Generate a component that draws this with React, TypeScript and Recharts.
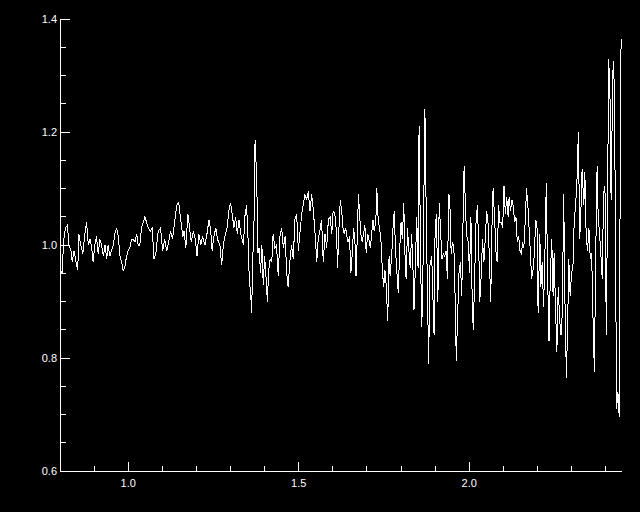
import { LineChart, Line, XAxis, YAxis } from 'recharts'

// wavelength grid (micron) and normalised flux
const wavelength = [
  0.802, 0.806, 0.811, 0.816, 0.822, 0.826, 0.832, 0.836, 0.841, 0.847,
  0.852, 0.855, 0.861, 0.867, 0.873, 0.878, 0.883, 0.888, 0.893, 0.897,
  0.902, 0.907, 0.912, 0.917, 0.922, 0.927, 0.932, 0.937, 0.941, 0.946,
  0.951, 0.956, 0.961, 0.966, 0.971, 0.976, 0.981, 0.985, 0.990, 0.995,
  1.000, 1.005, 1.010, 1.015, 1.020, 1.025, 1.029, 1.034, 1.039, 1.044,
  1.049, 1.054, 1.059, 1.065, 1.071, 1.075, 1.081, 1.088, 1.095, 1.101,
  1.107, 1.113, 1.117, 1.124, 1.130, 1.137, 1.142, 1.148, 1.154, 1.160,
  1.164, 1.169, 1.175, 1.180, 1.185, 1.191, 1.197, 1.202, 1.207, 1.213,
  1.218, 1.225, 1.231, 1.237, 1.242, 1.246, 1.251, 1.257, 1.262, 1.269,
  1.274, 1.279, 1.285, 1.290, 1.295, 1.300, 1.305, 1.310, 1.315, 1.320,
  1.325, 1.330, 1.334, 1.338, 1.342, 1.347, 1.351, 1.355, 1.359, 1.362,
  1.365, 1.369, 1.372, 1.377, 1.380, 1.384, 1.388, 1.392, 1.396, 1.400,
  1.404, 1.408, 1.412, 1.416, 1.421, 1.425, 1.430, 1.435, 1.440, 1.445,
  1.450, 1.455, 1.460, 1.465, 1.469, 1.474, 1.479, 1.484, 1.489, 1.494,
  1.499, 1.504, 1.509, 1.513, 1.518, 1.523, 1.528, 1.533, 1.538, 1.543,
  1.548, 1.553, 1.557, 1.562, 1.567, 1.572, 1.577, 1.582, 1.587, 1.592,
  1.597, 1.601, 1.606, 1.611, 1.614, 1.618, 1.622, 1.626, 1.630, 1.633,
  1.638, 1.641, 1.645, 1.649, 1.653, 1.657, 1.661, 1.665, 1.668, 1.672,
  1.675, 1.679, 1.682, 1.686, 1.690, 1.694, 1.698, 1.702, 1.706, 1.710,
  1.714, 1.718, 1.721, 1.726, 1.729, 1.733, 1.737, 1.741, 1.745, 1.749,
  1.753, 1.757, 1.761, 1.765, 1.768, 1.773, 1.776, 1.780, 1.784, 1.788,
  1.792, 1.796, 1.800, 1.804, 1.808, 1.812, 1.815, 1.819, 1.823, 1.827,
  1.831, 1.835, 1.838, 1.842, 1.846, 1.850, 1.853, 1.858, 1.861, 1.865,
  1.870, 1.874, 1.878, 1.881, 1.885, 1.890, 1.893, 1.897, 1.900, 1.904,
  1.908, 1.912, 1.916, 1.920, 1.924, 1.928, 1.932, 1.936, 1.940, 1.943,
  1.947, 1.951, 1.955, 1.959, 1.962, 1.966, 1.970, 1.974, 1.978, 1.982,
  1.985, 1.990, 1.993, 1.997, 2.001, 2.005, 2.009, 2.012, 2.016, 2.020,
  2.024, 2.028, 2.031, 2.035, 2.039, 2.043, 2.047, 2.051, 2.055, 2.059,
  2.063, 2.067, 2.070, 2.075, 2.078, 2.082, 2.086, 2.090, 2.094, 2.098,
  2.102, 2.106, 2.110, 2.114, 2.117, 2.121, 2.125, 2.129, 2.133, 2.137,
  2.141, 2.145, 2.149, 2.153, 2.157, 2.160, 2.164, 2.168, 2.172, 2.176,
  2.179, 2.183, 2.187, 2.191, 2.195, 2.199, 2.202, 2.207, 2.210, 2.214,
  2.218, 2.222, 2.226, 2.230, 2.234, 2.238, 2.242, 2.246, 2.249, 2.253,
  2.257, 2.261, 2.265, 2.269, 2.273, 2.277, 2.281, 2.285, 2.289, 2.292,
  2.296, 2.300, 2.304, 2.308, 2.312, 2.316, 2.320, 2.324, 2.328, 2.331,
  2.336, 2.339, 2.343, 2.347, 2.351, 2.355, 2.359, 2.363, 2.367, 2.371,
  2.375, 2.378, 2.382, 2.386, 2.390, 2.394, 2.398, 2.402, 2.406, 2.409,
  2.413, 2.416, 2.421, 2.424, 2.428, 2.432, 2.436, 2.440, 2.444, 2.448,
]

const flux = [
  0.955, 0.950, 1.010, 1.030, 1.035, 1.000, 0.990, 0.970, 0.990, 0.970,
  0.955, 1.020, 1.000, 0.985, 1.020, 1.040, 1.000, 1.010, 0.995, 0.970,
  1.000, 1.015, 0.985, 1.010, 1.000, 0.980, 1.000, 0.975, 1.000, 0.980,
  0.990, 1.000, 1.020, 1.030, 1.015, 0.980, 0.970, 0.955, 0.960, 0.980,
  0.990, 0.995, 1.010, 1.010, 1.005, 1.020, 1.000, 1.000, 1.030, 1.040,
  1.050, 1.040, 1.030, 1.025, 1.030, 0.975, 0.985, 1.025, 1.030, 0.990,
  1.010, 0.990, 1.000, 1.025, 1.010, 1.045, 1.070, 1.075, 1.045, 1.015,
  1.025, 0.995, 1.055, 1.030, 1.005, 1.025, 1.010, 0.980, 1.020, 1.000,
  1.015, 1.000, 1.020, 1.045, 1.025, 0.990, 1.015, 1.030, 1.010, 1.000,
  0.965, 1.000, 1.020, 1.030, 1.060, 1.075, 1.055, 1.030, 1.050, 1.020,
  1.045, 1.020, 1.010, 1.000, 1.050, 1.070, 1.020, 0.940, 0.915, 0.880,
  0.970, 1.045, 1.185, 1.115, 0.985, 0.995, 0.950, 1.000, 0.930, 0.980,
  0.945, 0.900, 0.955, 0.975, 0.970, 1.020, 0.995, 1.000, 0.945, 1.015,
  1.030, 0.995, 1.015, 0.950, 0.925, 0.970, 1.000, 0.975, 1.045, 1.055,
  0.990, 1.025, 1.055, 1.070, 1.090, 1.080, 1.095, 1.060, 1.090, 1.060,
  1.020, 0.970, 1.010, 1.025, 1.045, 0.970, 1.020, 0.995, 1.045, 1.050,
  1.020, 1.060, 1.055, 1.020, 0.960, 1.030, 1.080, 1.060, 1.030, 1.020,
  1.030, 1.015, 1.005, 1.015, 0.950, 0.985, 1.030, 1.005, 0.945, 1.020,
  1.090, 1.050, 1.020, 1.005, 1.020, 1.035, 0.985, 1.020, 1.010, 0.995,
  1.020, 1.045, 1.025, 1.040, 1.100, 1.045, 1.030, 1.010, 0.960, 0.925,
  0.955, 0.925, 0.865, 0.980, 0.945, 0.985, 1.025, 1.060, 0.990, 0.950,
  0.915, 0.990, 1.040, 1.010, 1.075, 0.975, 0.940, 1.030, 0.990, 0.960,
  1.020, 0.960, 0.885, 0.960, 1.050, 0.960, 1.210, 0.950, 0.855, 0.980,
  1.240, 1.050, 0.900, 0.790, 0.965, 0.980, 0.920, 0.840, 1.030, 1.055,
  0.900, 1.075, 1.025, 0.975, 0.985, 0.980, 0.990, 0.940, 1.090, 1.080,
  0.985, 1.005, 0.995, 0.900, 0.795, 0.875, 0.950, 0.970, 0.910, 1.045,
  1.140, 1.050, 1.015, 1.005, 0.950, 1.050, 0.890, 0.850, 0.945, 1.040,
  1.070, 0.995, 0.900, 0.945, 1.010, 0.970, 1.010, 1.060, 1.040, 0.980,
  0.900, 1.040, 1.100, 1.040, 0.990, 0.970, 1.070, 1.040, 1.040, 1.030,
  1.105, 1.055, 1.085, 1.050, 1.085, 1.060, 1.080, 1.070, 1.040, 1.050,
  1.005, 1.015, 0.990, 0.985, 1.005, 0.995, 1.040, 1.100, 1.070, 1.025,
  0.990, 0.940, 0.955, 0.985, 1.045, 1.030, 0.880, 1.020, 0.925, 0.970,
  0.890, 0.985, 1.110, 0.940, 0.830, 0.950, 1.010, 0.910, 0.985, 0.890,
  0.810, 0.925, 0.870, 0.840, 0.880, 1.090, 0.890, 0.765, 0.870, 0.975,
  0.910, 0.950, 0.960, 1.045, 1.070, 1.115, 1.200, 1.010, 1.070, 1.135,
  1.070, 1.130, 1.015, 0.990, 1.030, 0.975, 0.985, 0.870, 0.775, 0.985,
  1.140, 1.055, 1.020, 0.985, 0.940, 1.090, 1.105, 0.840, 1.105, 1.330,
  1.255, 1.080, 1.305, 1.325, 1.105, 0.710, 0.740, 0.695, 1.340, 1.365,
]

const xTicks = [0.8, 0.9, 1.0, 1.1, 1.2, 1.3, 1.4, 1.5, 1.6, 1.7, 1.8, 1.9, 2.0, 2.1, 2.2, 2.3, 2.4]
const yTicks = [0.6, 0.65, 0.7, 0.75, 0.8, 0.85, 0.9, 0.95, 1.0, 1.05, 1.1, 1.15, 1.2, 1.25, 1.3, 1.35, 1.4]

const data = wavelength.map((w, i) => ({ w, f: flux[i] }))

const FONT = '"Liberation Sans", Arial, sans-serif'
const isMajorX = (v: number) => Math.abs(v * 2 - Math.round(v * 2)) < 1e-6
const isMajorY = (v: number) => Math.abs(v * 5 - Math.round(v * 5)) < 1e-6

// IDL style: ticks point into the plot box, labels only on major ticks
function BottomTick({ x, y, payload }: any) {
  const major = isMajorX(payload.value)
  return (
    <g>
      <line x1={x} x2={x} y1={y} y2={y - (major ? 9 : 5)} stroke="#fff" shapeRendering="crispEdges" />
      {major && (
        <text x={x} y={y + 16} fill="#fff" textAnchor="middle" fontSize={11} fontFamily={FONT}>
          {payload.value.toFixed(1)}
        </text>
      )}
    </g>
  )
}

function TopTick({ x, y, payload }: any) {
  const major = isMajorX(payload.value)
  return <line x1={x} x2={x} y1={y} y2={y + (major ? 9 : 5)} stroke="#fff" shapeRendering="crispEdges" />
}

function LeftTick({ x, y, payload }: any) {
  const major = isMajorY(payload.value)
  return (
    <g>
      <line x1={x} x2={x + (major ? 10 : 6)} y1={y} y2={y} stroke="#fff" shapeRendering="crispEdges" />
      {major && (
        <text x={x - 3} y={y + 4} fill="#fff" textAnchor="end" fontSize={11} fontFamily={FONT}>
          {payload.value.toFixed(1)}
        </text>
      )}
    </g>
  )
}

function RightTick({ x, y, payload }: any) {
  const major = isMajorY(payload.value)
  return <line x1={x} x2={x - (major ? 10 : 5)} y1={y} y2={y} stroke="#fff" shapeRendering="crispEdges" />
}

export default function App() {
  return (
    <div style={{ position: 'absolute', left: 0, top: 0, width: 640, height: 512, background: '#000' }}>
      <style>{'html,body{margin:0;background:#000}'}</style>
      <LineChart width={640} height={512} data={data} margin={{ top: 19, right: 18, bottom: 0, left: 0 }}>
        <XAxis
          xAxisId="b"
          dataKey="w"
          type="number"
          domain={[0.8, 2.448]}
          allowDataOverflow
          ticks={xTicks}
          interval={0}
          height={41}
          tickSize={0}
          tickMargin={0}
          tickLine={false}
          axisLine={{ stroke: '#fff', shapeRendering: 'crispEdges' }}
          tick={<BottomTick />}
        />
        <XAxis
          xAxisId="t"
          orientation="top"
          dataKey="w"
          type="number"
          domain={[0.8, 2.448]}
          allowDataOverflow
          ticks={xTicks}
          interval={0}
          height={0}
          tickSize={0}
          tickMargin={0}
          tickLine={false}
          axisLine={{ stroke: '#fff', shapeRendering: 'crispEdges' }}
          tick={<TopTick />}
        />
        <YAxis
          yAxisId="l"
          type="number"
          domain={[0.6, 1.4]}
          allowDataOverflow
          ticks={yTicks}
          interval={0}
          width={60}
          tickSize={0}
          tickMargin={0}
          tickLine={false}
          axisLine={{ stroke: '#fff', shapeRendering: 'crispEdges' }}
          tick={<LeftTick />}
        />
        <YAxis
          yAxisId="r"
          orientation="right"
          type="number"
          domain={[0.6, 1.4]}
          allowDataOverflow
          ticks={yTicks}
          interval={0}
          width={0}
          tickSize={0}
          tickMargin={0}
          tickLine={false}
          axisLine={{ stroke: '#fff', shapeRendering: 'crispEdges' }}
          tick={<RightTick />}
        />
        <Line
          xAxisId="b"
          yAxisId="l"
          dataKey="f"
          type="linear"
          stroke="#fff"
          strokeWidth={1}
          shapeRendering="crispEdges"
          dot={false}
          isAnimationActive={false}
        />
      </LineChart>
    </div>
  )
}
